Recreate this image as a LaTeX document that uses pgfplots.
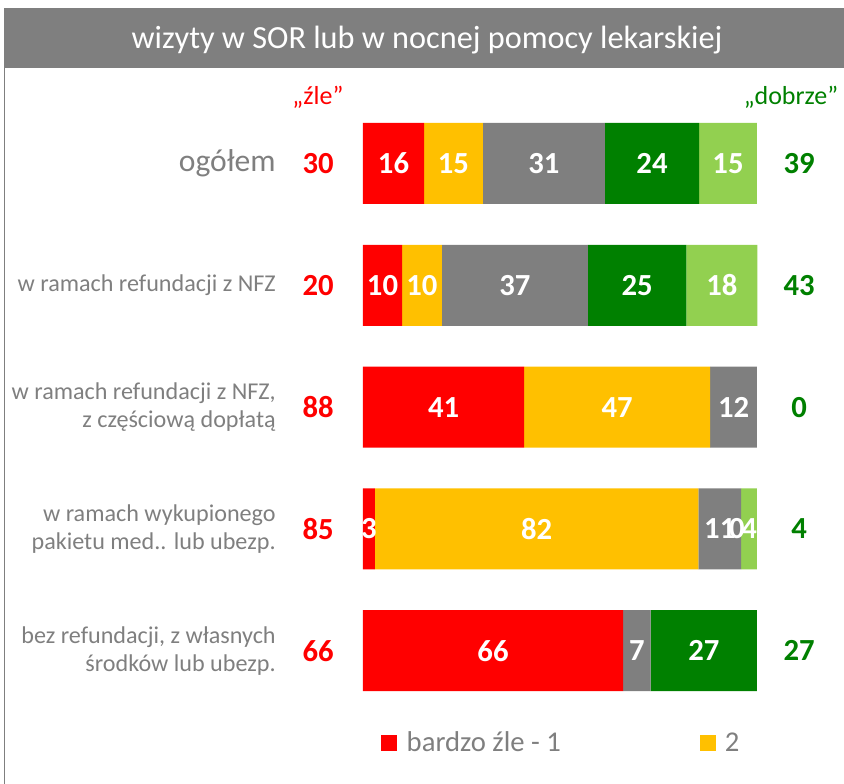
\documentclass[border=0pt]{standalone}
\usepackage{pgfplots}
\pgfplotsset{compat=1.18}
\usepackage{pgfplotstable}
\usepackage{fontspec}
\setmainfont{Carlito}
\definecolor{cgray}{HTML}{7F7F7F}
\definecolor{cred}{HTML}{FF0000}
\definecolor{cyel}{HTML}{FFC000}
\definecolor{cdg}{HTML}{008000}
\definecolor{clg}{HTML}{92D050}

\pgfplotstableread{
y a la b lb c lc d ld e le
0 15.5 16 14.9 15 31.0 31 23.9 24 14.7 15
1 9.9 10 10.1 10 37.1 37 25.0 25 18.0 18
2 40.9 41 47.2 47 11.9 12 0 {} 0 {}
3 3.0 3 82.1 82 10.9 11 0 {} 4.0 4
4 66.0 66 0 {} 7.0 7 27.0 27 0 {}
}\datatab

\tikzset{redtot/.style={text=cred,font=\fontsize{23}{26}\selectfont\bfseries},
  grntot/.style={text=cdg,font=\fontsize{23}{26}\selectfont\bfseries},
  barlab/.style={text=white,font=\fontsize{23}{26}\selectfont\bfseries},
  catlab/.style={anchor=east,align=right,inner xsep=0pt,text=cgray,font=\fontsize{18.1}{21}\selectfont}}

\begin{document}
\begin{tikzpicture}[x=0.75pt,y=0.75pt]
\path[use as bounding box] (0,0) rectangle (844,784);
% title bar and frame
\fill[cgray] (4,784-8) rectangle (844,784-68);
\draw[cgray,line width=1.2pt] (4.5,784-68) -- (4.5,0);
\node[text=white,font=\fontsize{24.2}{28}\selectfont] at (427,784-40) {wizyty w SOR lub w nocnej pomocy lekarskiej};
\node[text=cred,font=\fontsize{19.5}{22}\selectfont] at (318,784-97) {„źle”};
\node[text=cdg,font=\fontsize{19.5}{22}\selectfont] at (791,784-97) {„dobrze”};

\begin{axis}[
  at={(272.25pt,511.05pt)}, anchor=north west,
  scale only axis, width=295.5pt, height=456.75pt,
  xbar stacked, bar width=60.75pt,
  xmin=0, xmax=100, ymin=-0.5, ymax=4.5, y dir=reverse,
  hide axis, clip=false,
  nodes near coords, point meta=explicit symbolic,
  nodes near coords align={center},
  every node near coord/.append style={font=\fontsize{23}{26}\selectfont\bfseries, text=white},
  legend style={at={(axis description cs:0.046,-0.0516)}, anchor=west, draw=none, fill=none,
    inner sep=0pt, legend columns=2, font=\fontsize{21.5}{24}\selectfont, text=cgray,
    /tikz/every odd column/.append style={column sep=5pt},
    /tikz/every even column/.append style={column sep=102pt}},
  legend image code/.code={\path[#1,draw=none] (0pt,-6pt) rectangle (12pt,6pt);},
]
\addplot[fill=cred,draw=none] table[x=a,y=y,meta=la] {\datatab};
\addplot[fill=cyel,draw=none] table[x=b,y=y,meta=lb] {\datatab};
\addplot[fill=cgray,draw=none] table[x=c,y=y,meta=lc] {\datatab};
\addplot[fill=cdg,draw=none] table[x=d,y=y,meta=ld] {\datatab};
\addplot[fill=clg,draw=none] table[x=e,y=y,meta=le] {\datatab};
\legend{bardzo źle - 1, 2}

% position of the label of the zero-width segment (dark green, row 4)
\coordinate (zerolab) at (axis cs:94.9,3);
% category labels
\node[catlab,font=\fontsize{23.7}{26}\selectfont] at (axis cs:-22.1,0) {ogółem};
\node[catlab] at (axis cs:-22.1,1) {w ramach refundacji z NFZ};
\node[catlab] at (axis cs:-22.1,2) {w ramach refundacji z NFZ,\\ z częściową dopłatą};
\node[catlab] at (axis cs:-22.1,3) {w ramach wykupionego\\ pakietu med.. lub ubezp.};
\node[catlab] at (axis cs:-22.1,4) {bez refundacji, z własnych\\ środków lub ubezp.};
% totals
\node[redtot] at (axis cs:-11.4,0) {30};
\node[redtot] at (axis cs:-11.4,1) {20};
\node[redtot] at (axis cs:-11.4,2) {88};
\node[redtot] at (axis cs:-11.4,3) {85};
\node[redtot] at (axis cs:-11.4,4) {66};
\node[grntot] at (axis cs:110.7,0) {39};
\node[grntot] at (axis cs:110.7,1) {43};
\node[grntot] at (axis cs:110.7,2) {0};
\node[grntot] at (axis cs:110.7,3) {4};
\node[grntot] at (axis cs:110.7,4) {27};
\end{axis}
\node[barlab] at (zerolab) {0};
\end{tikzpicture}
\end{document}
